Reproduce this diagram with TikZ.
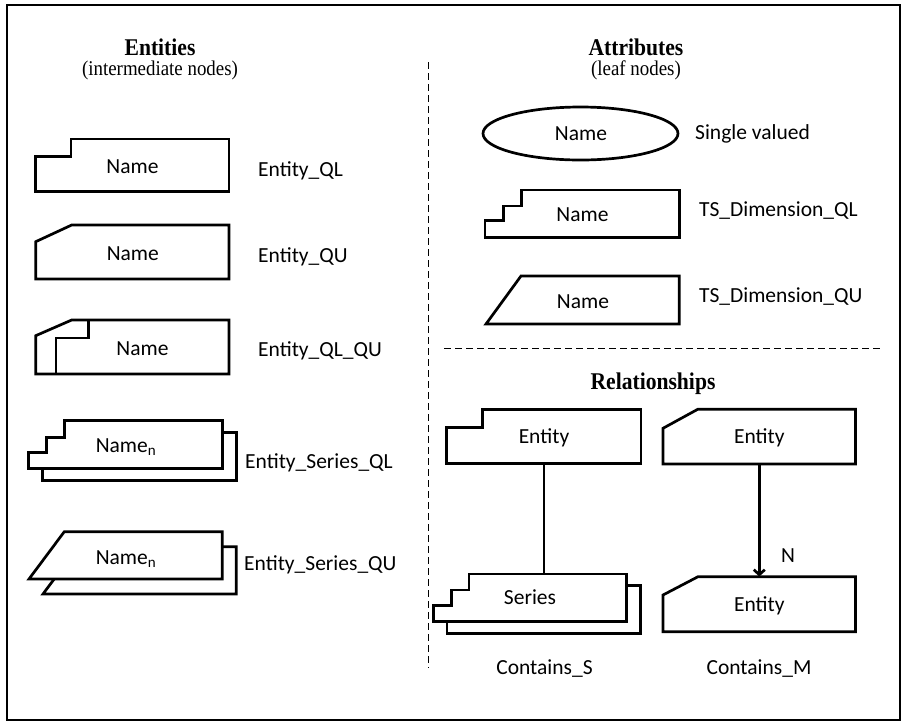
\documentclass[tikz,border=0pt]{standalone}
\usepackage{fontspec}
\setmainfont{Liberation Serif}
\newfontfamily\lblfont{Carlito}
\newfontfamily\ttlfont{Liberation Serif}[FakeStretch=0.9]
\usetikzlibrary{arrows.meta}
\begin{document}
\begin{tikzpicture}[x=1pt,y=-1pt,
  shp/.style={line width=2.7pt, line join=miter, fill=white},
  lbl/.style={font=\lblfont\fontsize{21.5}{26}\selectfont, inner sep=0pt, text height=14.3pt, text depth=0pt},
  ttl/.style={font=\ttlfont\bfseries\fontsize{24}{28}\selectfont, inner sep=0pt, anchor=base},
  sub/.style={font=\ttlfont\fontsize{21}{25}\selectfont, inner sep=0pt, anchor=base},
  box/.style={lbl, minimum width=#1, minimum height=54pt},
  sep/.style={line width=0.9pt, dash pattern=on 7pt off 4pt},
  conn/.style={line width=2.7pt}]
\useasboundingbox (0,0) rectangle (906,724);
\draw[line width=1.4pt] (7,5) rectangle (900,720);

% separators
\coordinate (vt) at (428,62);
\coordinate (vb) at (428,668);
\draw[sep] (vt) -- (vb);
\coordinate (hl) at (444,348.3);
\coordinate (hr) at (882,348.3);
\draw[sep] (hl) -- (hr);

% titles
\node[ttl] (tEnt) at (160,55) {Entities};
\node[sub] (sEnt) at (160,75) {(intermediate nodes)};
\node[ttl] (tAtt) at (636,55) {Attributes};
\node[sub] (sAtt) at (636,75) {(leaf nodes)};
\node[ttl] (tRel) at (653,389.3) {Relationships};

% ---- Entities column ----
% Entity_QL
\draw[shp] (35.5,191.7) -- (35.5,156.7) -- (71,156.7) -- (71,139) -- (229,139) -- (229,191.7) -- cycle;
\node[lbl] (eql) at (132.5,166.3) {Name};
\node[lbl, anchor=west] (leql) at (258,169) {Entity\_QL};

% Entity_QU
\draw[shp] (35.7,279) -- (35.7,241.7) -- (71.7,225) -- (229,225) -- (229,279) -- cycle;
\node[lbl] (equ) at (132.8,253.3) {Name};
\node[lbl, anchor=west] (lequ) at (258,255) {Entity\_QU};

% Entity_QL_QU
\draw[shp] (35.7,374) -- (35.7,335.7) -- (71.7,320) -- (229,320) -- (229,374) -- cycle;
\draw[line width=2.7pt, line join=miter] (56,374) -- (56,338) -- (88.3,338) -- (88.3,320);
\node[lbl] (eqlqu) at (142.5,348) {Name};
\node[lbl, anchor=west] (leqlqu) at (258,349) {Entity\_QL\_QU};

% Entity_Series_QL
\begin{scope}[shift={(14.2,12)}]
\draw[shp] (28.3,468.3) -- (28.3,452.7) -- (46.7,452.7) -- (46.7,437.3) -- (64.3,437.3) -- (64.3,420.7) -- (222.3,420.7) -- (222.3,468.3) -- cycle;
\end{scope}
\draw[shp] (28.3,468.3) -- (28.3,452.7) -- (46.7,452.7) -- (46.7,437.3) -- (64.3,437.3) -- (64.3,420.7) -- (222.3,420.7) -- (222.3,468.3) -- cycle;
\node[lbl] (esql) at (126,445) {Name\textsubscript{n}};
\node[lbl, anchor=west] (lesql) at (245,461) {Entity\_Series\_QL};

% Entity_Series_QU
\begin{scope}[shift={(14,15)}]
\draw[shp] (29,579) -- (64.3,531.7) -- (222.3,531.7) -- (222.3,579) -- cycle;
\end{scope}
\draw[shp] (29,579) -- (64.3,531.7) -- (222.3,531.7) -- (222.3,579) -- cycle;
\node[lbl] (esqu) at (126,557) {Name\textsubscript{n}};
\node[lbl, anchor=west] (lesqu) at (244,563) {Entity\_Series\_QU};

% ---- Attributes column ----
\draw[shp] (580.5,133.5) ellipse [x radius=97.5, y radius=26.5];
\node[lbl] (asv) at (581,133.3) {Name};
\node[lbl, anchor=west] (lasv) at (695,132) {Single valued};

\draw[shp] (485,237.3) -- (485,220.7) -- (503.3,220.7) -- (503.3,206) -- (521.7,206) -- (521.7,190) -- (679.3,190) -- (679.3,237.3) -- cycle;
\node[lbl] (atql) at (582.5,214.7) {Name};
\node[lbl, anchor=west] (latql) at (699,209) {TS\_Dimension\_QL};

\draw[shp] (486,324) -- (521,276) -- (679.3,276) -- (679.3,324) -- cycle;
\node[lbl] (atqu) at (583,301.7) {Name};
\node[lbl, anchor=west] (latqu) at (699,295) {TS\_Dimension\_QU};

% ---- Relationships ----
% Contains_S
\draw[shp] (446.7,463.3) -- (446.7,427.7) -- (482.3,427.7) -- (482.3,409.3) -- (641,409.3) -- (641,463.3) -- cycle;
\node[box=194pt] (relA) at (544,436.3) {Entity};
\begin{scope}[shift={(13.8,11.8)}]
\draw[shp] (433.3,621.5) -- (433.3,605.7) -- (451.7,605.7) -- (451.7,590) -- (469,590) -- (469,574) -- (626.7,574) -- (626.7,621.5) -- cycle;
\end{scope}
\draw[shp] (433.3,621.5) -- (433.3,605.7) -- (451.7,605.7) -- (451.7,590) -- (469,590) -- (469,574) -- (626.7,574) -- (626.7,621.5) -- cycle;
\node[box=193pt, minimum height=47.5pt] (relS) at (530,597.8) {Series};
\draw[conn] (relA.south) -- (relA.south |- relS.north);
\node[lbl] (lcs) at (544.5,667) {Contains\_S};

% Contains_M
\draw[shp] (663,464) -- (663,428.3) -- (697.7,409.3) -- (855.5,409.3) -- (855.5,464) -- cycle;
\node[box=192.5pt, minimum height=54.7pt] (relM1) at (759.3,436.7) {Entity};
\draw[shp] (663,631.7) -- (663,595) -- (698,576.7) -- (855.5,576.7) -- (855.5,631.7) -- cycle;
\node[box=192.5pt, minimum height=55pt] (relM2) at (759.3,604.2) {Entity};
\draw[conn, -{Straight Barb[length=5pt,width=11pt]}] (relM1.south) -- (relM2.north);
\node[lbl, anchor=west] (lN) at (781,555) {N};
\node[lbl] (lcm) at (759,667) {Contains\_M};
\end{tikzpicture}
\end{document}
